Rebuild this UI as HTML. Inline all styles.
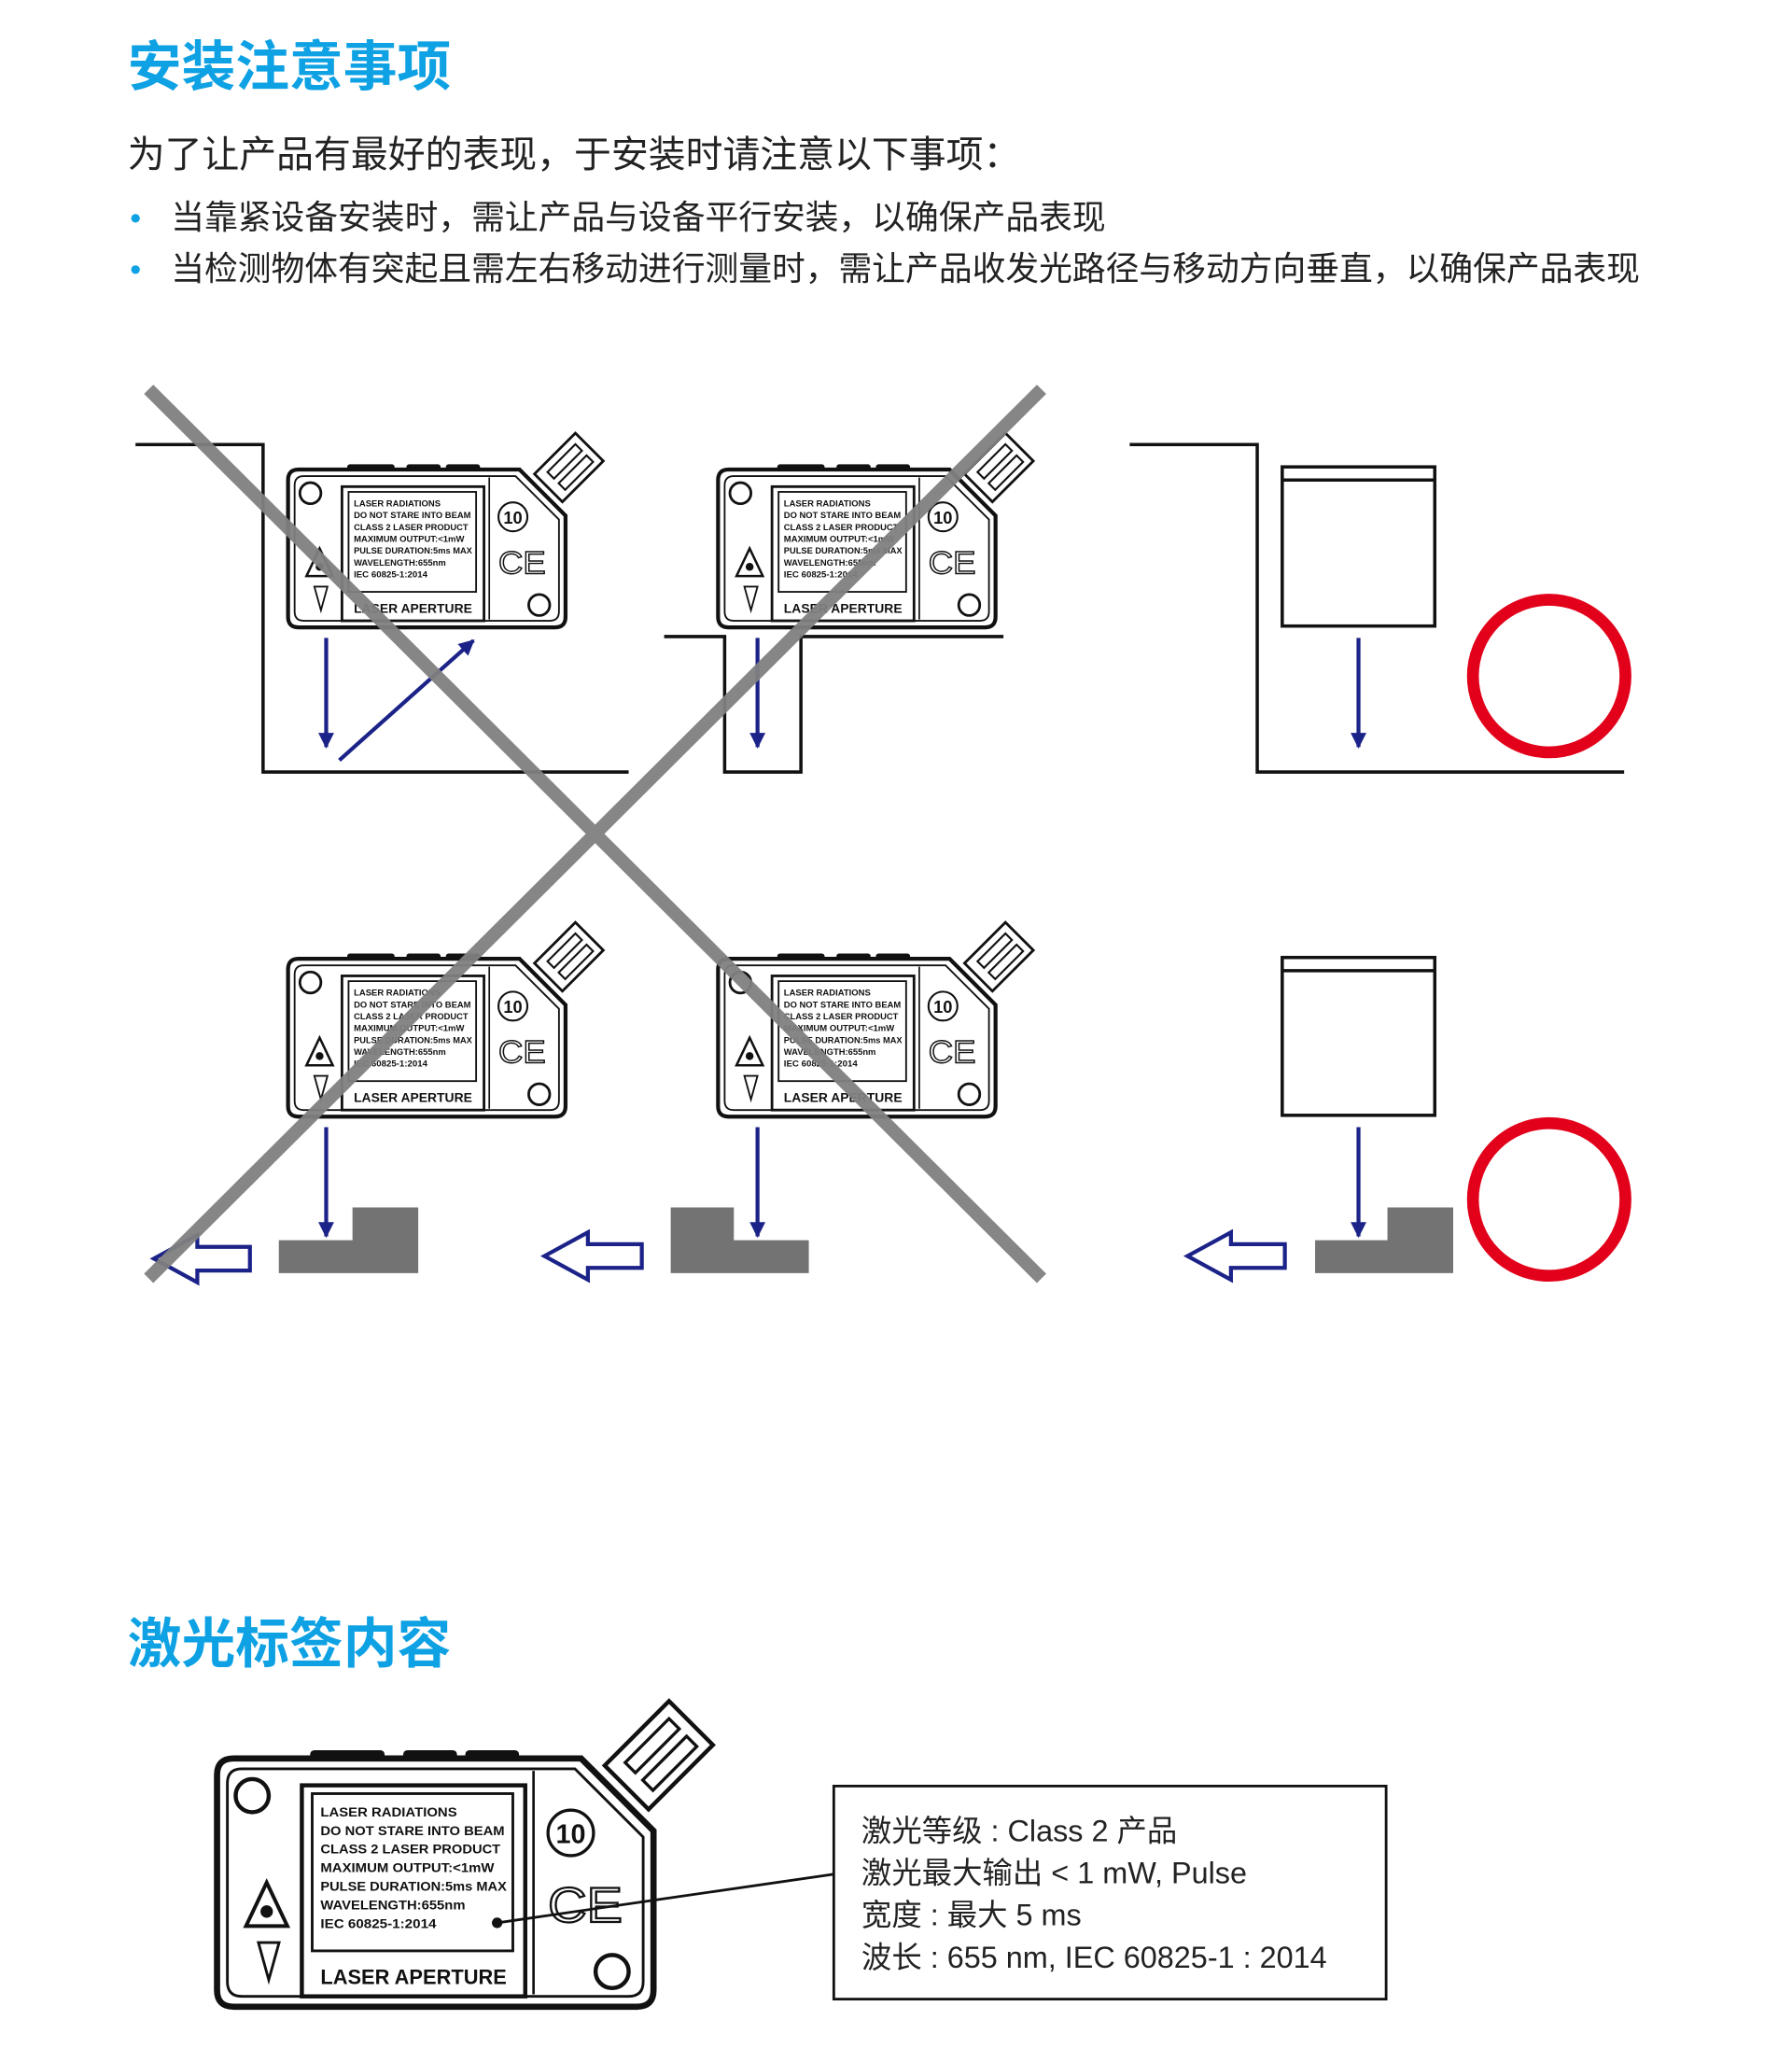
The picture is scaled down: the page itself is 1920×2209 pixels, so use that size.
<!DOCTYPE html>
<html><head><meta charset="utf-8"><style>
html,body{margin:0;padding:0;background:#fff;}
svg{display:block;}
.cn{font-family:"Liberation Sans","Noto Sans CJK SC",sans-serif;}
.lb{font-family:"Liberation Sans",sans-serif;font-weight:bold;}
</style></head><body>
<svg width="1920" height="2209" viewBox="0 0 1362.6 1567.8" xmlns="http://www.w3.org/2000/svg">
<defs>
<g id="sensor">
  <rect x="45" y="-4" width="36" height="6" rx="2" fill="#111"/>
  <rect x="90" y="-4" width="26" height="6" rx="2" fill="#111"/>
  <rect x="120" y="-4" width="26" height="6" rx="2" fill="#111"/>
  <g transform="translate(198,14) rotate(45)">
    <rect x="-15" y="-44" width="30" height="44" fill="#fff" stroke="#111" stroke-width="2"/>
    <rect x="-9" y="-38" width="7" height="30" fill="none" stroke="#111" stroke-width="1.5"/>
    <rect x="3" y="-38" width="7" height="30" fill="none" stroke="#111" stroke-width="1.5"/>
  </g>
  <path d="M8,0 H176 L211,35 V112 Q211,120 203,120 H8 Q0,120 0,112 V8 Q0,0 8,0 Z" fill="#fff" stroke="#111" stroke-width="3"/>
  <path d="M12,5 H173 L206,38 V108 Q206,115 199,115 H12 Q5,115 5,108 V12 Q5,5 12,5 Z" fill="none" stroke="#111" stroke-width="1.3"/>
  <circle cx="17" cy="18" r="8" fill="none" stroke="#111" stroke-width="2"/>
  <circle cx="191" cy="103" r="8" fill="none" stroke="#111" stroke-width="2"/>
  <line x1="153" y1="6" x2="153" y2="114" stroke="#111" stroke-width="1.2"/>
  <rect x="41" y="13" width="108" height="102" fill="none" stroke="#111" stroke-width="2"/>
  <rect x="46" y="17" width="97" height="76" fill="none" stroke="#111" stroke-width="1.3"/>
  <g class="lb" font-size="6.3" fill="#111">
    <text x="50" y="28" textLength="66" lengthAdjust="spacingAndGlyphs">LASER RADIATIONS</text>
    <text x="50" y="37" textLength="89" lengthAdjust="spacingAndGlyphs">DO NOT STARE INTO BEAM</text>
    <text x="50" y="46" textLength="87" lengthAdjust="spacingAndGlyphs">CLASS 2 LASER PRODUCT</text>
    <text x="50" y="55" textLength="84" lengthAdjust="spacingAndGlyphs">MAXIMUM OUTPUT:&lt;1mW</text>
    <text x="50" y="64" textLength="90" lengthAdjust="spacingAndGlyphs">PULSE DURATION:5ms MAX</text>
    <text x="50" y="73" textLength="70" lengthAdjust="spacingAndGlyphs">WAVELENGTH:655nm</text>
    <text x="50" y="82" textLength="56" lengthAdjust="spacingAndGlyphs">IEC 60825-1:2014</text>
    <text x="50" y="109" font-size="10" textLength="90" lengthAdjust="spacingAndGlyphs">LASER APERTURE</text>
  </g>
  <circle cx="171" cy="36" r="11" fill="none" stroke="#111" stroke-width="1.5"/>
  <text x="171" y="41" font-size="13" class="lb" text-anchor="middle" fill="#111">10</text>
  <text x="178" y="79" font-size="24" font-family="Liberation Sans,sans-serif" text-anchor="middle" fill="none" stroke="#111" stroke-width="1" textLength="36" lengthAdjust="spacingAndGlyphs">CE</text>
  <polygon points="24,60 14,81 34,81" fill="none" stroke="#111" stroke-width="1.8"/>
  <circle cx="24" cy="74" r="3" fill="#111"/>
  <polygon points="20,89 30,89 25,107" fill="none" stroke="#111" stroke-width="1.3"/>
</g>
<marker id="ah" viewBox="0 0 10 10" refX="9" refY="5" markerWidth="4" markerHeight="4" orient="auto"><path d="M0,0 L10,5 L0,10 Z" fill="#1c2388"/></marker>
</defs>

<text x="97" y="65" class="cn" font-size="41" font-weight="bold" fill="#0ea1e3">安装注意事项</text>
<text x="97" y="127" class="cn" font-size="28.3" fill="#222">为了让产品有最好的表现，于安装时请注意以下事项：</text>
<circle cx="103" cy="166" r="3.3" fill="#0ea1e3"/>
<circle cx="103" cy="205" r="3.3" fill="#0ea1e3"/>
<text x="130" y="174" class="cn" font-size="25.4" fill="#222">当靠紧设备安装时，需让产品与设备平行安装，以确保产品表现</text>
<text x="130" y="213" class="cn" font-size="25.4" fill="#222">当检测物体有突起且需左右移动进行测量时，需让产品收发光路径与移动方向垂直，以确保产品表现</text>

<g fill="none" stroke="#111" stroke-width="2.5">
  <polyline points="103,338 200,338 200,587 478,587"/>
  <polyline points="505,484 551,484 551,587 609,587 609,484 763,484"/>
  <polyline points="859,338 956,338 956,587 1235,587"/>
  <rect x="975" y="355" width="116" height="121"/><line x1="975" y1="365" x2="1091" y2="365"/>
  <rect x="975" y="728" width="116" height="120"/><line x1="975" y1="738" x2="1091" y2="738"/>
</g>

<use href="#sensor" x="219" y="357"/>
<use href="#sensor" x="546" y="357"/>
<use href="#sensor" x="219" y="729"/>
<use href="#sensor" x="546" y="729"/>

<g stroke="#1c2388" stroke-width="3" marker-end="url(#ah)">
  <line x1="248" y1="485" x2="248" y2="568"/>
  <line x1="258" y1="578" x2="360" y2="487"/>
  <line x1="576" y1="485" x2="576" y2="568"/>
  <line x1="1033" y1="485" x2="1033" y2="568"/>
  <line x1="248" y1="857" x2="248" y2="940"/>
  <line x1="576" y1="857" x2="576" y2="940"/>
  <line x1="1033" y1="857" x2="1033" y2="940"/>
</g>
<g fill="none" stroke="#1c2388" stroke-width="3">
  <polygon points="117,957 150,939 150,948 190,948 190,966 150,966 150,975"/>
  <polygon points="414,955 447,937 447,946 488,946 488,964 447,964 447,973"/>
  <polygon points="903,955 936,937 936,946 977,946 977,964 936,964 936,973"/>
</g>

<g fill="#737373">
  <polygon points="212,943 268,943 268,918 318,918 318,968 212,968"/>
  <polygon points="510,918 558,918 558,943 615,943 615,968 510,968"/>
  <polygon points="1000,943 1055,943 1055,918 1105,918 1105,968 1000,968"/>
</g>

<circle cx="1178" cy="514" r="58" fill="none" stroke="#e2001a" stroke-width="9"/>
<circle cx="1178" cy="912" r="58" fill="none" stroke="#e2001a" stroke-width="9"/>

<g stroke="#808080" stroke-width="10" opacity="0.95">
  <line x1="113" y1="296" x2="792" y2="972"/>
  <line x1="792" y1="296" x2="113" y2="972"/>
</g>

<text x="97" y="1264" class="cn" font-size="41" font-weight="bold" fill="#0ea1e3">激光标签内容</text>
<g transform="translate(165,1337) scale(1.573)"><use href="#sensor"/></g>
<line x1="378" y1="1462" x2="634" y2="1425" stroke="#111" stroke-width="2"/>
<circle cx="378" cy="1462" r="4" fill="#111"/>
<rect x="634" y="1358" width="420" height="162" fill="#fff" stroke="#111" stroke-width="2"/>
<g class="cn" font-size="23" fill="#222">
  <text x="655" y="1400">激光等级 : Class 2 产品</text>
  <text x="655" y="1432">激光最大输出 &lt; 1 mW, Pulse</text>
  <text x="655" y="1464">宽度 : 最大 5 ms</text>
  <text x="655" y="1496">波长 : 655 nm, IEC 60825-1 : 2014</text>
</g>
</svg>
</body></html>
